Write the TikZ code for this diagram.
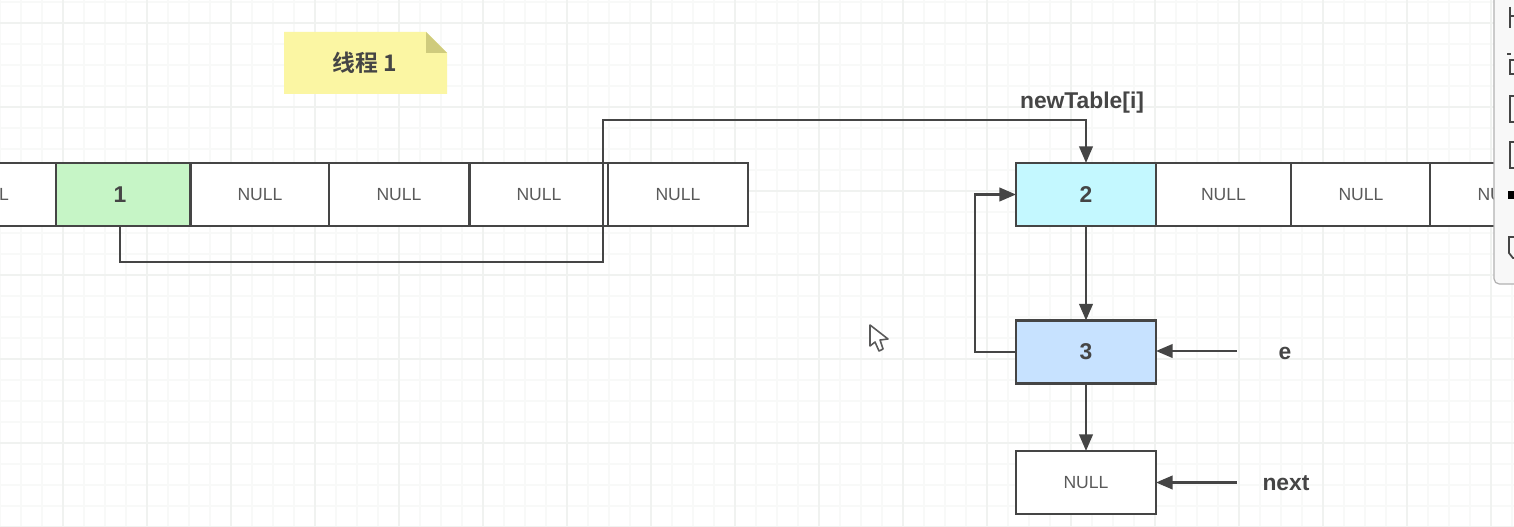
\documentclass[tikz,border=0pt]{standalone}
\usepackage{fontspec}
\setmainfont{Liberation Sans}
\newfontfamily\cjk{Noto Sans CJK SC}[BoldFont={Noto Sans CJK SC Bold}]
\usetikzlibrary{arrows.meta}
\definecolor{inkgray}{HTML}{454545}
\definecolor{nullgray}{HTML}{5A5A5A}
\definecolor{gridminor}{HTML}{F8F9F8}
\definecolor{gridmajor}{HTML}{F0F2F0}
\definecolor{notefill}{HTML}{FBF6A3}
\definecolor{notefold}{HTML}{CFCB7D}
\tikzset{
    cell/.style={draw=inkgray, line width=1.6pt, rectangle, fill=white, inner sep=0pt, outer sep=0pt,
        minimum height=35.8pt, text=nullgray, font=\fontsize{10}{12}\selectfont},
    numcell/.style={cell, text=inkgray, font=\fontsize{13}{15}\selectfont\bfseries},
    tag/.style={text=inkgray, inner sep=0pt, font=\fontsize{13}{15}\selectfont\bfseries},
    link/.style={draw=inkgray, line width=1.6pt, line join=miter},
    arrow/.style={link, -{Triangle[length=9.5pt,width=7.6pt]}}
}
\begin{document}
\begin{tikzpicture}[x=0.02cm, y=-0.02cm]
    \useasboundingbox (0,0) rectangle (1514,527);
    \fill[white] (0,0) rectangle (1514,527);
    % background grid
    \foreach \gx in {0,21,...,1514} \draw[gridminor, line width=0.6pt] (\gx,0) -- (\gx,527);
    \foreach \gy in {2,23,...,527} \draw[gridminor, line width=0.6pt] (0,\gy) -- (1514,\gy);
    \foreach \gx in {63,147,...,1514} \draw[gridmajor, line width=0.6pt] (\gx,0) -- (\gx,527);
    \foreach \gy in {23,107,...,527} \draw[gridmajor, line width=0.6pt] (0,\gy) -- (1514,\gy);

    % note
    \fill[notefill] (284,32) -- (426,32) -- (447,53) -- (447,94) -- (284,94) -- cycle;
    \fill[notefold] (426,32) -- (447,53) -- (426,53) -- cycle;
    \node[tag] (note) at (365,63) {\cjk 线程 1};

    % left table
    \node[cell, minimum width=79.6pt] (Left0) at (-13.5,194.5) {NULL};
    \node[numcell, minimum width=76.3pt, fill={rgb,255:red,198;green,245;blue,198}] (Left1) at (123,194.5) {1\kern3.4pt};
    \node[cell, minimum width=79.1pt] (Left2) at (260,194.5) {NULL};
    \node[cell, minimum width=79.6pt] (Left3) at (399,194.5) {NULL};
    \node[cell, minimum width=79.1pt] (Left4) at (539,194.5) {NULL};
    \node[cell, minimum width=79.6pt] (Left5) at (678,194.5) {NULL};

    % right table
    \node[numcell, minimum width=79.6pt, fill={rgb,255:red,196;green,248;blue,255}] (Right0) at (1086,194.5) {2};
    \node[cell, minimum width=76.8pt] (Right1) at (1223.5,194.5) {NULL};
    \node[cell, minimum width=79.6pt] (Right2) at (1361,194.5) {NULL};
    \node[cell, minimum width=79.6pt] (Right3) at (1500,194.5) {NULL};

    % chain
    \node[numcell, minimum width=79.6pt, fill={rgb,255:red,199;green,226;blue,255}] (Three) at (1086,352) {3};
    \node[cell, minimum width=79.6pt] (Last) at (1086,482.5) {NULL};
    \node[tag] (NewTable) at (1082,103) {newTable[i]};
    \node[tag] (E) at (1285,353) {e};
    \node[tag] (Next) at (1286,483.5) {next};

    \coordinate (Start) at (120,226);
    \coordinate (EFrom) at (1237,351);
    \coordinate (NextFrom) at (1237,482.5);
    \draw[arrow] (Start) -- (120,262) -- (603,262) -- (603,120) -- (1086,120) -- (Right0.north);
    \draw[arrow] (Right0.south) -- (Three.north);
    \draw[arrow] (Three.south) -- (Last.north);
    \draw[arrow] (Three.west) -- (975,352) -- (975,194.5) -- (Right0.west);
    \draw[arrow] (EFrom) -- (Three.east |- EFrom);
    \draw[arrow] (NextFrom) -- (Last.east |- NextFrom);

    % mouse pointer
    \draw[fill=white, draw=nullgray, line width=0.9pt, line join=round]
        (870,325) -- (870,346) -- (875,342) -- (879,351) -- (883,349) -- (880,340) -- (888,339) -- cycle;

    % side panel
    \draw[fill={rgb,255:red,248;green,248;blue,248}, draw=black!30, line width=0.7pt, rounded corners=3pt]
        (1494,-20) rectangle (1540,284);
    \draw[inkgray, line width=1pt] (1510,7) -- (1510,28) (1510,16) -- (1520,16);
    \draw[inkgray, line width=1pt] (1520,60) -- (1510,60) -- (1510,74) -- (1520,74);
    \draw[inkgray, line width=1pt] (1507,54) -- (1511,54);
    \draw[inkgray, line width=1pt] (1520,96) -- (1510,96) -- (1510,122) -- (1520,122);
    \draw[inkgray, line width=1pt] (1520,142) -- (1510,142) -- (1510,168) -- (1520,168);
    \fill[black] (1508,191) rectangle (1520,199);
    \draw[inkgray, line width=1pt] (1520,237) -- (1509,237) -- (1509,253) -- (1513,258) -- (1520,258);
\end{tikzpicture}
\end{document}
